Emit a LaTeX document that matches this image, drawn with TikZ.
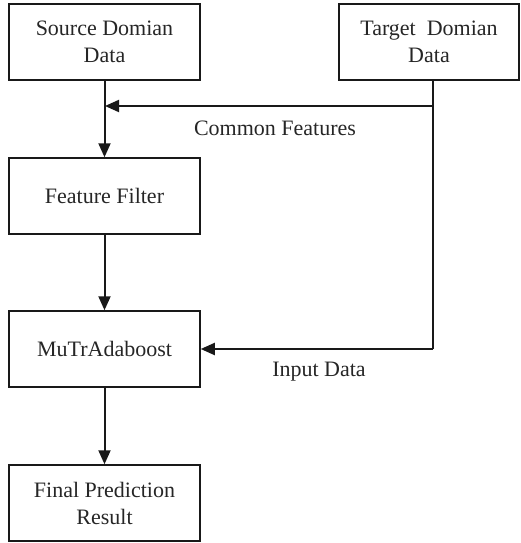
\documentclass[tikz,border=0pt]{standalone}
\usepackage{fontspec}
\setmainfont{Liberation Serif}
\usetikzlibrary{arrows.meta}
\begin{document}
\begin{tikzpicture}[x=1pt,y=-1pt,
  box/.style={draw=black!90, line width=1.5pt, minimum width=191pt, minimum height=76pt, inner sep=0pt, align=center, font=\fontsize{22}{27}\selectfont, text=black!85},
  lbl/.style={font=\fontsize{22}{27}\selectfont, text=black!85, inner sep=0pt},
  conn/.style={line width=2pt, draw=black!90, -{Triangle[length=14pt,width=12pt]}},
  plain/.style={line width=2pt, draw=black!90}]
\useasboundingbox (0,0) rectangle (521,543);
\node[box] (src) at (104.5,42) {Source Domian\\Data};
\node[box, minimum width=180pt] (tgt) at (429,42) {Target\ \ Domian\\Data};
\node[box] (ff) at (104.5,196) {Feature Filter};
\node[box] (mu) at (104.5,349) {MuTrAdaboost};
\node[box] (fin) at (104.5,503) {Final Prediction\\Result};
\coordinate (tb) at (433,80);
\coordinate (j1) at (433,106);
\coordinate (j2) at (433,349);
\coordinate (m1) at (105,106);
\draw[conn] (src.south) -- (ff.north);
\draw[conn] (ff.south) -- (mu.north);
\draw[conn] (mu.south) -- (fin.north);
\draw[plain] (tb) -- (j2);
\draw[conn] (j1) -- (m1);
\draw[conn] (j2) -- (mu.east);
\node[lbl] (cf) at (275,128) {Common Features};
\node[lbl] (id) at (319,372) {Input Data};
\end{tikzpicture}
\end{document}
